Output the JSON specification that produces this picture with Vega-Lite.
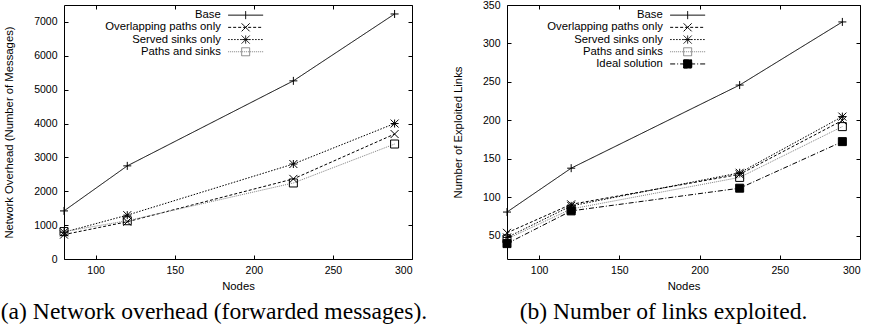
{
  "$schema": "https://vega.github.io/schema/vega-lite/v6.json",
  "padding": {"left": 0, "top": -1, "right": 0, "bottom": 0},
  "background": "white",
  "bounds": "flush",
  "spacing": 95,
  "resolve": {
    "scale": {"color": "independent", "shape": "independent", "strokeDash": "independent"},
    "legend": {"color": "independent", "shape": "independent", "strokeDash": "independent"}
  },
  "config": {
    "font": "Liberation Sans",
    "view": {"stroke": "black", "strokeWidth": 1},
    "axis": {
      "grid": false, "domain": false, "tickSize": -4, "tickColor": "black", "tickWidth": 1,
      "labelFont": "Liberation Sans", "labelFontSize": 10.5, "labelColor": "black", "format": "d",
      "titleFont": "Liberation Sans", "titleFontSize": 11.3, "titleFontWeight": "normal", "titleColor": "black"
    },
    "axisX": {"labelPadding": 10, "titlePadding": 5},
    "axisY": {"labelPadding": 11, "titlePadding": 19},
    "legend": {
      "labelFont": "Liberation Sans", "labelFontSize": 11.3, "labelColor": "black",
      "rowPadding": -0.8, "padding": 0, "symbolSize": 64, "symbolStrokeWidth": 1,
      "labelAlign": "right", "labelOffset": -30.5, "orient": "none"
    },
    "title": {"font": "Liberation Serif", "fontSize": 23.6, "fontWeight": "normal", "color": "black", "orient": "bottom", "offset": 8}
  },
  "datasets": {
    "overhead": [
      {"series": "Base", "nodes": 80, "value": 1420},
      {"series": "Base", "nodes": 120, "value": 2750},
      {"series": "Base", "nodes": 225, "value": 5260},
      {"series": "Base", "nodes": 289, "value": 7235},
      {"series": "Overlapping paths only", "nodes": 80, "value": 720},
      {"series": "Overlapping paths only", "nodes": 120, "value": 1100},
      {"series": "Overlapping paths only", "nodes": 225, "value": 2365},
      {"series": "Overlapping paths only", "nodes": 289, "value": 3690},
      {"series": "Served sinks only", "nodes": 80, "value": 790},
      {"series": "Served sinks only", "nodes": 120, "value": 1295},
      {"series": "Served sinks only", "nodes": 225, "value": 2805},
      {"series": "Served sinks only", "nodes": 289, "value": 4000},
      {"series": "Paths and sinks", "nodes": 80, "value": 810},
      {"series": "Paths and sinks", "nodes": 120, "value": 1130},
      {"series": "Paths and sinks", "nodes": 225, "value": 2245},
      {"series": "Paths and sinks", "nodes": 289, "value": 3395}
    ],
    "links": [
      {"series": "Base", "nodes": 80, "value": 81},
      {"series": "Base", "nodes": 120, "value": 138},
      {"series": "Base", "nodes": 225, "value": 246},
      {"series": "Base", "nodes": 289, "value": 328},
      {"series": "Overlapping paths only", "nodes": 80, "value": 54},
      {"series": "Overlapping paths only", "nodes": 120, "value": 91},
      {"series": "Overlapping paths only", "nodes": 225, "value": 130},
      {"series": "Overlapping paths only", "nodes": 289, "value": 200},
      {"series": "Served sinks only", "nodes": 80, "value": 48},
      {"series": "Served sinks only", "nodes": 120, "value": 89},
      {"series": "Served sinks only", "nodes": 225, "value": 132},
      {"series": "Served sinks only", "nodes": 289, "value": 205},
      {"series": "Paths and sinks", "nodes": 80, "value": 46},
      {"series": "Paths and sinks", "nodes": 120, "value": 85},
      {"series": "Paths and sinks", "nodes": 225, "value": 126},
      {"series": "Paths and sinks", "nodes": 289, "value": 192},
      {"series": "Ideal solution", "nodes": 80, "value": 40},
      {"series": "Ideal solution", "nodes": 120, "value": 82.5},
      {"series": "Ideal solution", "nodes": 225, "value": 112},
      {"series": "Ideal solution", "nodes": 289, "value": 172.5}
    ]
  },
  "hconcat": [
    {
      "width": 348,
      "height": 254,
      "data": {"name": "overhead"},
      "title": {"text": "(a) Network overhead (forwarded messages).", "dx": -24},
      "layer": [
        {
          "mark": {"type": "line", "strokeWidth": 1},
          "encoding": {
            "x": {"field": "nodes", "type": "quantitative", "scale": {"domain": [80, 300], "nice": false, "zero": false},
                  "axis": {"values": [100, 150, 200, 250, 300], "title": "Nodes"}},
            "y": {"field": "value", "type": "quantitative", "scale": {"domain": [0, 7500], "nice": false},
                  "axis": {"values": [0, 1000, 2000, 3000, 4000, 5000, 6000, 7000], "title": "Network Overhead (Number of Messages)"}},
            "color": {"field": "series", "type": "nominal",
                      "scale": {"domain": ["Base", "Overlapping paths only", "Served sinks only", "Paths and sinks"], "range": ["black", "black", "black", "#808080"]},
                      "legend": {"title": null, "legendX": 176, "legendY": 4.5,
                        "encode": {"symbols": {"update": {
                          "shape": {"signal": "datum.value === 'Base' ? 'M-4.375,0L4.375,0M0,-1L0,1' : datum.value === 'Overlapping paths only' ? 'M-4.375,0L4.375,0M-1,-1L-0.5,-0.5M-0.5,-0.5L0,0M0,0L0.5,0.5M0.5,0.5L1,1M-1,1L-0.5,0.5M-0.5,0.5L0,0M0,0L0.5,-0.5M0.5,-0.5L1,-1' : datum.value === 'Served sinks only' ? 'M-4.375,0L4.375,0M0,-1L0,-0.75M0,-0.75L0,-0.5M0,-0.5L0,-0.25M0,-0.25L0,0M0,0L0,0.25M0,0.25L0,0.5M0,0.5L0,0.75M0,0.75L0,1M-1,0L-0.75,0M-0.75,0L-0.5,0M-0.5,0L-0.25,0M-0.25,0L0,0M0,0L0.25,0M0.25,0L0.5,0M0.5,0L0.75,0M0.75,0L1,0M-1,-1L-0.75,-0.75M-0.75,-0.75L-0.5,-0.5M-0.5,-0.5L-0.25,-0.25M-0.25,-0.25L0,0M0,0L0.25,0.25M0.25,0.25L0.5,0.5M0.5,0.5L0.75,0.75M0.75,0.75L1,1M-1,1L-0.75,0.75M-0.75,0.75L-0.5,0.5M-0.5,0.5L-0.25,0.25M-0.25,0.25L0,0M0,0L0.25,-0.25M0.25,-0.25L0.5,-0.5M0.5,-0.5L0.75,-0.75M0.75,-0.75L1,-1' : 'M-4.375,0L4.375,0M-1,-1L-0.75,-1M-0.75,-1L-0.5,-1M-0.5,-1L-0.25,-1M-0.25,-1L0,-1M0,-1L0.25,-1M0.25,-1L0.5,-1M0.5,-1L0.75,-1M0.75,-1L1,-1M1,-1L1,-0.75M1,-0.75L1,-0.5M1,-0.5L1,-0.25M1,-0.25L1,0M1,0L1,0.25M1,0.25L1,0.5M1,0.5L1,0.75M1,0.75L1,1M1,1L0.75,1M0.75,1L0.5,1M0.5,1L0.25,1M0.25,1L0,1M0,1L-0.25,1M-0.25,1L-0.5,1M-0.5,1L-0.75,1M-0.75,1L-1,1M-1,1L-1,0.75M-1,0.75L-1,0.5M-1,0.5L-1,0.25M-1,0.25L-1,0M-1,0L-1,-0.25M-1,-0.25L-1,-0.5M-1,-0.5L-1,-0.75M-1,-0.75L-1,-1'"},
                          "fill": {"value": "transparent"}
                        }}}}},
            "strokeDash": {"field": "series", "type": "nominal",
                      "scale": {"domain": ["Base", "Overlapping paths only", "Served sinks only", "Paths and sinks"], "range": [[1, 0], [3, 2], [1.5, 1.5], [1, 1]]},
                      "legend": {"title": null, "legendX": 176, "legendY": 4.5}}
          }
        },
        {
          "mark": {"type": "point", "filled": false, "opacity": 1, "color": "black", "stroke": "black", "strokeWidth": 1, "size": 64},
          "encoding": {
            "x": {"field": "nodes", "type": "quantitative", "scale": {"domain": [80, 300], "nice": false, "zero": false},
                  "axis": {"orient": "top", "values": [100, 150, 200, 250, 300], "labels": false, "title": null}},
            "y": {"field": "value", "type": "quantitative", "scale": {"domain": [0, 7500], "nice": false},
                  "axis": {"orient": "right", "values": [0, 1000, 2000, 3000, 4000, 5000, 6000, 7000], "labels": false, "title": null}},
            "shape": {"field": "series", "type": "nominal",
                      "sort": ["Base", "Overlapping paths only", "Served sinks only", "Paths and sinks"],
                      "scale": {"range": ["M-1,0H1M0,-1V1", "M-1,-1L1,1M-1,1L1,-1", "M-1,0H1M0,-1V1M-1,-1L1,1M-1,1L1,-1", "square"]},
                      "legend": null}
          }
        }
      ],
      "resolve": {"axis": {"x": "independent", "y": "independent"}}
    },
    {
      "width": 353,
      "height": 254,
      "data": {"name": "links"},
      "title": {"text": "(b) Number of links exploited.", "dx": -20},
      "layer": [
        {
          "mark": {"type": "line", "strokeWidth": 1},
          "encoding": {
            "x": {"field": "nodes", "type": "quantitative", "scale": {"domain": [80, 300], "nice": false, "zero": false},
                  "axis": {"values": [100, 150, 200, 250, 300], "title": "Nodes"}},
            "y": {"field": "value", "type": "quantitative", "scale": {"domain": [20, 350], "nice": false, "zero": false},
                  "axis": {"values": [50, 100, 150, 200, 250, 300, 350], "title": "Number of Exploited Links"}},
            "color": {"field": "series", "type": "nominal",
                      "scale": {"domain": ["Base", "Overlapping paths only", "Served sinks only", "Paths and sinks", "Ideal solution"], "range": ["black", "black", "black", "#808080", "black"]},
                      "legend": {"title": null, "legendX": 175, "legendY": 4.5,
                        "encode": {"symbols": {"update": {
                          "shape": {"signal": "datum.value === 'Base' ? 'M-4.375,0L4.375,0M0,-1L0,1' : datum.value === 'Overlapping paths only' ? 'M-4.375,0L4.375,0M-1,-1L-0.5,-0.5M-0.5,-0.5L0,0M0,0L0.5,0.5M0.5,0.5L1,1M-1,1L-0.5,0.5M-0.5,0.5L0,0M0,0L0.5,-0.5M0.5,-0.5L1,-1' : datum.value === 'Served sinks only' ? 'M-4.375,0L4.375,0M0,-1L0,-0.75M0,-0.75L0,-0.5M0,-0.5L0,-0.25M0,-0.25L0,0M0,0L0,0.25M0,0.25L0,0.5M0,0.5L0,0.75M0,0.75L0,1M-1,0L-0.75,0M-0.75,0L-0.5,0M-0.5,0L-0.25,0M-0.25,0L0,0M0,0L0.25,0M0.25,0L0.5,0M0.5,0L0.75,0M0.75,0L1,0M-1,-1L-0.75,-0.75M-0.75,-0.75L-0.5,-0.5M-0.5,-0.5L-0.25,-0.25M-0.25,-0.25L0,0M0,0L0.25,0.25M0.25,0.25L0.5,0.5M0.5,0.5L0.75,0.75M0.75,0.75L1,1M-1,1L-0.75,0.75M-0.75,0.75L-0.5,0.5M-0.5,0.5L-0.25,0.25M-0.25,0.25L0,0M0,0L0.25,-0.25M0.25,-0.25L0.5,-0.5M0.5,-0.5L0.75,-0.75M0.75,-0.75L1,-1' : datum.value === 'Paths and sinks' ? 'M-4.375,0L4.375,0M-1,-1L-0.75,-1M-0.75,-1L-0.5,-1M-0.5,-1L-0.25,-1M-0.25,-1L0,-1M0,-1L0.25,-1M0.25,-1L0.5,-1M0.5,-1L0.75,-1M0.75,-1L1,-1M1,-1L1,-0.75M1,-0.75L1,-0.5M1,-0.5L1,-0.25M1,-0.25L1,0M1,0L1,0.25M1,0.25L1,0.5M1,0.5L1,0.75M1,0.75L1,1M1,1L0.75,1M0.75,1L0.5,1M0.5,1L0.25,1M0.25,1L0,1M0,1L-0.25,1M-0.25,1L-0.5,1M-0.5,1L-0.75,1M-0.75,1L-1,1M-1,1L-1,0.75M-1,0.75L-1,0.5M-1,0.5L-1,0.25M-1,0.25L-1,0M-1,0L-1,-0.25M-1,-0.25L-1,-0.5M-1,-0.5L-1,-0.75M-1,-0.75L-1,-1' : 'M-4.375,0L4.375,0M-1,-1L1,-1L1,1L-1,1ZM-1,-1L0,-1M0,-1L1,-1M1,-1L1,0M1,0L1,1M1,1L0,1M0,1L-1,1M-1,1L-1,0M-1,0L-1,-1'"},
                          "fill": {"signal": "datum.value === 'Ideal solution' ? 'black' : 'transparent'"}
                        }}}}},
            "strokeDash": {"field": "series", "type": "nominal",
                      "scale": {"domain": ["Base", "Overlapping paths only", "Served sinks only", "Paths and sinks", "Ideal solution"], "range": [[1, 0], [3, 2], [1.5, 1.5], [1, 1], [5, 2, 1, 2]]},
                      "legend": {"title": null, "legendX": 175, "legendY": 4.5}}
          }
        },
        {
          "mark": {"type": "point", "filled": false, "opacity": 1, "color": "black", "stroke": "black", "strokeWidth": 1, "size": 64},
          "encoding": {
            "x": {"field": "nodes", "type": "quantitative", "scale": {"domain": [80, 300], "nice": false, "zero": false},
                  "axis": {"orient": "top", "values": [100, 150, 200, 250, 300], "labels": false, "title": null}},
            "y": {"field": "value", "type": "quantitative", "scale": {"domain": [20, 350], "nice": false, "zero": false},
                  "axis": {"orient": "right", "values": [50, 100, 150, 200, 250, 300, 350], "labels": false, "title": null}},
            "shape": {"field": "series", "type": "nominal",
                      "sort": ["Base", "Overlapping paths only", "Served sinks only", "Paths and sinks", "Ideal solution"],
                      "scale": {"range": ["M-1,0H1M0,-1V1", "M-1,-1L1,1M-1,1L1,-1", "M-1,0H1M0,-1V1M-1,-1L1,1M-1,1L1,-1", "square", "square"]},
                      "legend": null},
            "fill": {"condition": {"test": "datum.series === 'Ideal solution'", "value": "black"}, "value": "transparent"}
          }
        }
      ],
      "resolve": {"axis": {"x": "independent", "y": "independent"}}
    }
  ]
}
